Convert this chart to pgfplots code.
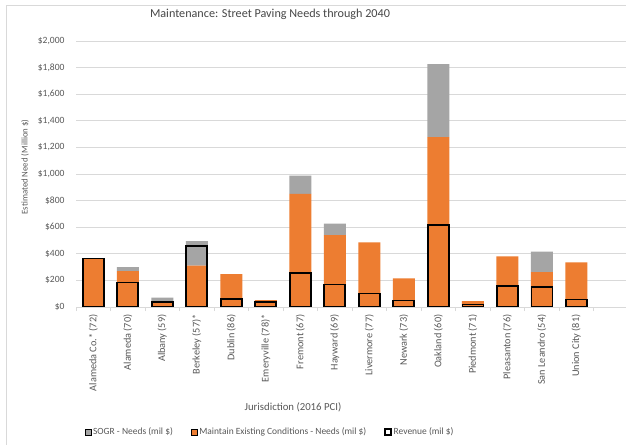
\documentclass[border=0pt]{standalone}
\usepackage{pgfplots}
\pgfplotsset{compat=1.18}
\usepackage{fontspec}
\setmainfont{Carlito}
\definecolor{morange}{HTML}{ED7D31}
\definecolor{sogr}{HTML}{A5A5A5}
\definecolor{txt}{HTML}{595959}
\definecolor{gridc}{HTML}{D9D9D9}
\begin{document}
\begin{tikzpicture}
\useasboundingbox (0,0) rectangle (626bp,445bp);
\fill[white] (0,0) rectangle (626bp,445bp);
\draw[gridc, line width=0.8bp] (6bp,-5bp) -- (6bp,440bp) -- (640bp,440bp);
\begin{axis}[
  at={(76bp,138bp)}, anchor=south west, scale only axis,
  width=550bp, height=266bp,
  xmin=-0.5, xmax=15.44, ymin=0, ymax=2000,
  ybar stacked, bar width=22bp,
  xtick={0,...,14},
  xticklabels={Alameda Co.* (72),Alameda (70),Albany (59),Berkeley (57)*,Dublin (86),Emeryville (78)*,Fremont (67),Hayward (69),Livermore (77),Newark (73),Oakland (60),Piedmont (71),Pleasanton (76),San Leandro (54),Union City (81)},
  x tick label style={rotate=90, anchor=east, font=\fontsize{10.3}{11}\selectfont, text=txt},
  xticklabel shift=4bp,
  minor xtick={-0.5,0.5,...,14.5},
  major x tick style={draw=none},
  minor x tick style={gridc, line width=0.8bp},
  tick align=outside,
  minor tick length=4bp,
  major tick length=0pt,
  xtick pos=bottom, ytick pos=left,
  ytick={0,200,...,2000},
  yticklabel={\$\pgfmathprintnumber{\tick}},
  /pgf/number format/.cd, 1000 sep={,}, assume math mode=true, /pgfplots/.cd,
  y tick label style={font=\fontsize{9.6}{10}\selectfont, text=txt},
  yticklabel shift=8bp,
  ymajorgrids, grid style={gridc, line width=0.8bp},
  axis x line*=bottom,
  axis y line*=left,
  y axis line style={draw=none},
  x axis line style={gridc, line width=0.8bp, -},
  legend columns=3,
  legend style={draw=none, fill=none, at={(0.353,-0.47)}, anchor=center,
    font=\fontsize{9.5}{10}\selectfont, text=txt,
    /tikz/every even column/.append style={column sep=16bp}},
  legend image code/.code={\draw[#1] (0bp,-3bp) rectangle (6bp,3bp);},
]
\addlegendimage{fill=sogr, draw=none}
\addlegendimage{fill=morange, draw=none}
\addlegendimage{fill=white, draw=black, line width=1.3bp}
\legend{SOGR - Needs (mil \$),Maintain Existing Conditions - Needs (mil \$),Revenue (mil \$)}
\addplot+[fill=morange, draw=none, forget plot] coordinates {
(0,365) (1,270) (2,42) (3,312) (4,247) (5,52) (6,850) (7,540) (8,485) (9,215) (10,1277) (11,44) (12,380) (13,262) (14,335)};
\addplot+[fill=sogr, draw=none, forget plot] coordinates {
(0,0) (1,30) (2,28) (3,183) (4,0) (5,0) (6,137) (7,87) (8,0) (9,0) (10,550) (11,0) (12,0) (13,155) (14,0)};
\end{axis}
\begin{axis}[
  at={(76bp,138bp)}, anchor=south west, scale only axis,
  width=550bp, height=266bp,
  xmin=-0.5, xmax=15.44, ymin=0, ymax=2000,
  hide axis,
  ybar, bar width=21bp, bar shift=0pt,
]
\addplot[fill=none, draw=black, line width=1.6bp] coordinates {
(0,365) (1,185) (2,37) (3,457) (4,62) (5,37) (6,257) (7,170) (8,100) (9,50) (10,617) (11,20) (12,157) (13,150) (14,55)};
\end{axis}
\node[text=txt!80!black, font=\fontsize{12.2}{14}\selectfont] at (270bp,431bp) {Maintenance: Street Paving Needs through 2040};
\node[text=txt, font=\fontsize{10.8}{12}\selectfont] at (293bp,38bp) {Jurisdiction (2016 PCI)};
\node[text=txt, font=\fontsize{8.8}{10}\selectfont, rotate=90] at (25bp,278bp) {Estimated Need (Million \$)};
\end{tikzpicture}
\end{document}
